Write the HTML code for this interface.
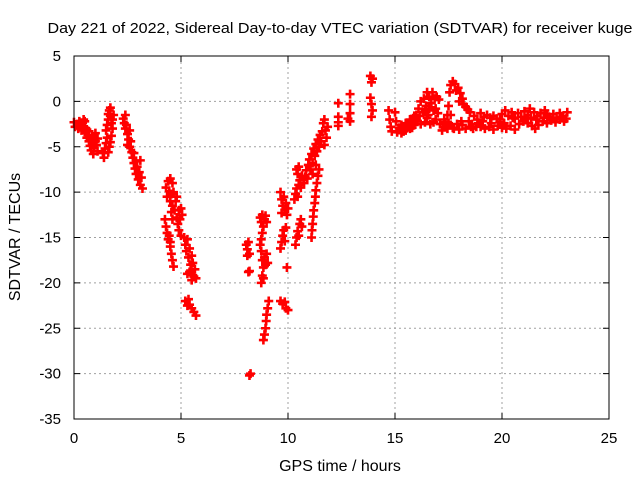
<!DOCTYPE html>
<html><head><meta charset="utf-8"><style>
html,body{margin:0;padding:0;background:#fff;}
svg{display:block;font-family:"Liberation Sans",sans-serif;}
</style></head><body>
<svg id="chart" width="640" height="480">
<text x="340" y="33" text-anchor="middle" font-size="15" textLength="585" lengthAdjust="spacingAndGlyphs">Day 221 of 2022, Sidereal Day-to-day VTEC variation (SDTVAR) for receiver kuge</text>
<text x="340" y="471" text-anchor="middle" font-size="16">GPS time / hours</text>
<text transform="translate(20,237) rotate(-90)" text-anchor="middle" font-size="16">SDTVAR / TECUs</text>
<g id="grid"></g>
<g id="ticks"></g>
<g id="points"></g>
<rect x="74" y="56" width="535" height="363" fill="none" stroke="#000" stroke-width="1"/>
</svg>
<script>
const xTicks=[0,5,10,15,20,25];
const yTicks=[5,0,-5,-10,-15,-20,-25,-30,-35];
const times=[0,0.05,0.15,0.2,0.25,0.3,0.35,0.4,0.45,0.5,0.55,0.6,0.6,0.65,0.7,0.7,0.75,0.8,0.8,0.85,0.9,0.9,0.95,1.0,1.0,1.05,1.1,1.1,0.5,0.4,
1.35,1.4,1.45,1.5,1.55,1.5,1.55,1.6,1.6,1.65,1.7,1.75,1.8,1.75,1.7,1.65,1.6,1.8,1.85,1.7,
2.3,2.35,2.4,2.45,2.5,2.55,2.5,2.6,2.65,2.7,2.75,2.8,2.8,2.85,2.9,2.9,2.95,3.0,3.05,3.1,3.15,3.2,3.1,2.6,2.4,
4.3,4.35,4.4,4.45,4.5,4.5,4.55,4.6,4.6,4.65,4.7,4.75,4.8,4.8,4.85,4.9,4.9,4.95,5.0,5.0,5.05,4.6,4.55,
4.25,4.3,4.35,4.4,4.45,4.5,4.55,4.6,4.65,4.5,
5.15,5.2,5.25,5.3,5.35,5.4,5.45,5.5,5.5,5.55,5.6,5.65,5.7,5.4,5.3,5.5,
5.2,5.3,5.4,5.5,5.6,5.7,5.35,
8.2,8.25,
8.05,8.1,8.15,8.2,8.1,8.15,8.2,
8.7,8.75,8.8,8.85,8.9,8.95,9.0,8.8,8.75,8.7,
8.75,8.8,8.85,8.9,8.95,8.8,8.75,9.0,9.05,8.85,
9.1,9.05,9.0,8.98,8.95,8.9,8.85,
9.65,9.7,9.75,9.8,9.85,9.9,9.95,10.0,9.7,
9.65,9.7,9.75,9.8,9.85,9.9,
9.95,9.65,9.75,9.85,9.9,10.0,
10.35,10.4,10.45,10.5,10.55,10.6,10.65,
10.3,10.35,10.4,10.45,10.5,10.55,10.6,10.65,10.4,10.45,10.5,
10.75,10.8,10.85,10.9,10.95,11.0,11.05,11.1,11.15,11.2,11.25,11.3,11.35,11.4,11.45,11.5,11.55,11.6,11.15,11.3,
11.1,11.12,11.15,11.18,11.2,11.25,11.28,11.3,11.35,11.4,11.45,
11.65,11.7,11.75,11.8,11.7,11.85,
12.35,12.35,12.8,12.35,12.35,12.9,12.9,12.9,12.9,
13.85,13.95,13.9,13.85,13.9,13.95,13.9,
14.7,14.75,14.8,14.85,15.0,15.05,
15.1,15.2,15.3,15.4,15.5,15.6,15.7,15.8,15.9,16.0,16.05,16.1,16.15,16.2,15.5,15.3,15.7,15.9,16.2,
16.3,16.35,16.4,16.45,16.5,16.55,16.6,16.65,16.7,16.75,16.8,16.85,16.9,16.95,17.0,16.6,16.4,16.8,17.05,17.1,
17.45,17.5,17.55,17.6,17.7,17.8,17.85,17.95,18.05,18.15,18.2,18.3,18.4,17.5,17.6,18.0,
17.25,17.35,17.45,17.6,17.75,17.9,18.0,18.15,18.3,18.45,18.55,18.7,18.85,19.0,19.15,19.3,19.45,19.6,19.75,18.5,18.65,18.8,19.0,19.2,19.4,19.6,19.8,20.0,20.2,20.4,20.6,
19.9,20.0,20.15,20.3,20.45,20.6,20.75,20.9,21.05,21.2,21.35,21.5,21.65,21.8,21.95,22.1,22.25,22.4,22.55,22.7,22.85,23.0,23.05,20.8,21.0,21.2,21.4,21.55,21.7,21.9,22.1,22.3,22.5,22.7,22.9,21.3,22.0,
15.4,15.8,16.0,16.5,16.9,17.3,17.7,18.1,18.6,19.1,19.5,20.1,20.5,21.1,21.6,22.2,22.8,15.2,15.6,17.2,18.9,19.9];
const values=[-2.3,-2.8,-2.5,-3.0,-2.2,-2.6,-3.2,-2.4,-2.0,-2.9,-3.5,-3.1,-4.0,-3.7,-4.4,-3.3,-4.9,-4.1,-5.4,-4.6,-5.8,-3.9,-5.1,-4.4,-3.5,-4.8,-4.1,-5.5,-2.2,-3.0,
-5.7,-6.2,-5.2,-4.6,-4.0,-3.2,-2.6,-2.0,-1.4,-1.0,-1.6,-2.4,-3.0,-3.8,-4.5,-5.0,-5.6,-2.0,-1.5,-0.7,
-1.9,-2.4,-3.0,-2.6,-3.6,-4.2,-4.8,-5.0,-4.4,-5.6,-6.2,-5.7,-6.8,-7.4,-6.6,-8.0,-7.2,-8.6,-7.8,-9.2,-8.4,-9.6,-6.5,-3.2,-1.5,
-9.5,-10.5,-8.8,-9.9,-11.0,-8.5,-10.2,-9.0,-11.5,-10.0,-12.0,-11.0,-12.8,-10.5,-13.5,-12.0,-14.2,-13.0,-14.8,-11.8,-12.5,-13.0,-12.2,
-13.0,-13.8,-14.5,-15.2,-14.8,-16.0,-16.8,-17.5,-18.2,-15.5,
-15.0,-15.8,-16.5,-15.2,-17.2,-16.2,-18.0,-17.0,-18.8,-17.8,-19.3,-18.5,-19.5,-18.8,-19.0,-19.7,
-22.0,-22.5,-22.4,-22.8,-23.2,-23.6,-21.8,
-30.2,-30.0,
-15.8,-16.3,-15.5,-16.8,-17.0,-18.8,-18.7,
-12.8,-13.3,-12.5,-13.8,-13.0,-12.6,-13.3,-14.5,-15.2,-15.8,
-16.5,-17.5,-18.3,-17.2,-18.0,-19.2,-20.0,-16.8,-17.8,-19.5,
-22.0,-22.8,-23.5,-24.2,-25.0,-25.7,-26.3,
-10.0,-10.8,-11.5,-10.5,-12.0,-11.2,-12.5,-11.8,-12.3,
-16.2,-15.5,-14.8,-14.2,-15.4,-13.9,
-18.3,-22.0,-22.3,-22.1,-22.8,-23.0,
-15.8,-15.0,-14.3,-14.8,-13.5,-13.0,-13.8,
-10.8,-10.2,-9.6,-10.5,-9.2,-8.7,-9.5,-8.2,-7.5,-8.0,-7.2,
-9.0,-8.3,-7.6,-8.5,-7.0,-6.4,-7.5,-5.8,-6.8,-5.2,-6.0,-4.7,-5.5,-4.2,-5.0,-3.7,-4.4,-3.3,-8.0,-7.0,
-15.0,-14.2,-13.5,-12.7,-12.0,-11.2,-10.5,-9.8,-9.0,-8.2,-7.5,
-2.4,-2.0,-3.2,-4.0,-4.8,-2.8,
-2.3,-1.7,-1.9,-0.2,-2.7,0.8,-0.3,-1.3,-2.2,
2.8,2.5,2.1,0.4,-0.3,-1.0,-1.7,
-1.0,-2.0,-2.8,-3.3,-1.2,-2.2,
-3.4,-3.0,-3.5,-2.8,-3.2,-2.5,-3.0,-2.2,-2.6,-1.5,-2.2,-0.8,-1.6,0.0,-2.4,-2.6,-2.0,-1.6,-2.5,
-1.2,0.3,-2.3,-0.5,1.0,-1.5,0.5,-2.5,-0.2,1.0,-1.0,0.3,-2.0,0.5,-1.3,-0.8,-1.0,-2.3,0.2,-2.5,
-1.5,-0.5,1.0,1.8,2.2,1.9,1.2,1.5,0.9,0.3,-0.3,-0.6,-0.9,-2.4,-1.5,0.0,
-2.8,-2.3,-3.0,-2.6,-3.0,-2.5,-3.1,-2.6,-3.0,-2.2,-2.8,-1.6,-2.0,-1.3,-1.7,-1.5,-1.8,-1.6,-1.9,-1.2,-3.0,-2.8,-2.8,-3.0,-2.8,-3.1,-2.7,-2.9,-3.0,-2.7,-3.1,
-2.0,-1.4,-1.0,-1.6,-1.2,-1.9,-1.3,-1.7,-1.1,-1.5,-1.8,-1.2,-1.6,-1.3,-1.8,-1.5,-1.9,-1.4,-1.8,-1.3,-1.6,-1.9,-1.2,-2.5,-2.2,-2.4,-2.7,-3.0,-2.6,-2.2,-2.4,-2.1,-2.3,-2.0,-2.2,-0.8,-1.0,
-3.3,-2.9,-2.0,-1.8,-0.8,-2.0,-2.9,-2.2,-2.5,-2.2,-2.4,-2.4,-1.8,-1.9,-2.0,-1.7,-1.7,-2.9,-2.7,-3.2,-2.4,-2.3];

const NS='http://www.w3.org/2000/svg';
const X0=74,X1=609,Y0=419,Y1=56;
function sx(t){return X0+(t-0)/(25-0)*(X1-X0);}
function sy(v){return Y0-(v+35)/(5+35)*(Y0-Y1);}
const grid=document.getElementById('grid'),ticks=document.getElementById('ticks'),pts=document.getElementById('points');
function mk(tag,attrs,parent){const e=document.createElementNS(NS,tag);for(const k in attrs)e.setAttribute(k,attrs[k]);parent.appendChild(e);return e;}
xTicks.forEach(t=>{
  const x=sx(t);
  if(t>0&&t<25){const g=mk('line',{x1:x,y1:Y0,x2:x,y2:Y1,stroke:'#a0a0a0','stroke-dasharray':'2,3'},grid);
  
  }
  mk('line',{x1:x,y1:Y0,x2:x,y2:Y0-6,stroke:'#000'},ticks);
  mk('line',{x1:x,y1:Y1,x2:x,y2:Y1+6,stroke:'#000'},ticks);
  const l=mk('text',{x:x,y:Y0+24,'text-anchor':'middle','font-size':'15'},ticks);
  l.textContent=t;
  
  
});
yTicks.forEach(v=>{
  const y=sy(v);
  if(v<5&&v>-35){const g=mk('line',{x1:X0,y1:y,x2:X1,y2:y,stroke:'#a0a0a0','stroke-dasharray':'2,3'},grid);
  
  }
  mk('line',{x1:X0,y1:y,x2:X0+6,y2:y,stroke:'#000'},ticks);
  mk('line',{x1:X1,y1:y,x2:X1-6,y2:y,stroke:'#000'},ticks);
  const l=mk('text',{x:X0-13,y:y+5,'text-anchor':'end','font-size':'15'},ticks);
  l.textContent=v;
  
  
});
let d='';
for(let i=0;i<times.length;i++){
  const x=sx(times[i]),y=sy(values[i]);
  d+='M'+(x-4.5)+' '+y+'h9M'+x+' '+(y-4.5)+'v9';
}
const p=mk('path',{d:d,stroke:'#ff0000','stroke-width':'2.6',fill:'none'},pts);


</script>
</body></html>
